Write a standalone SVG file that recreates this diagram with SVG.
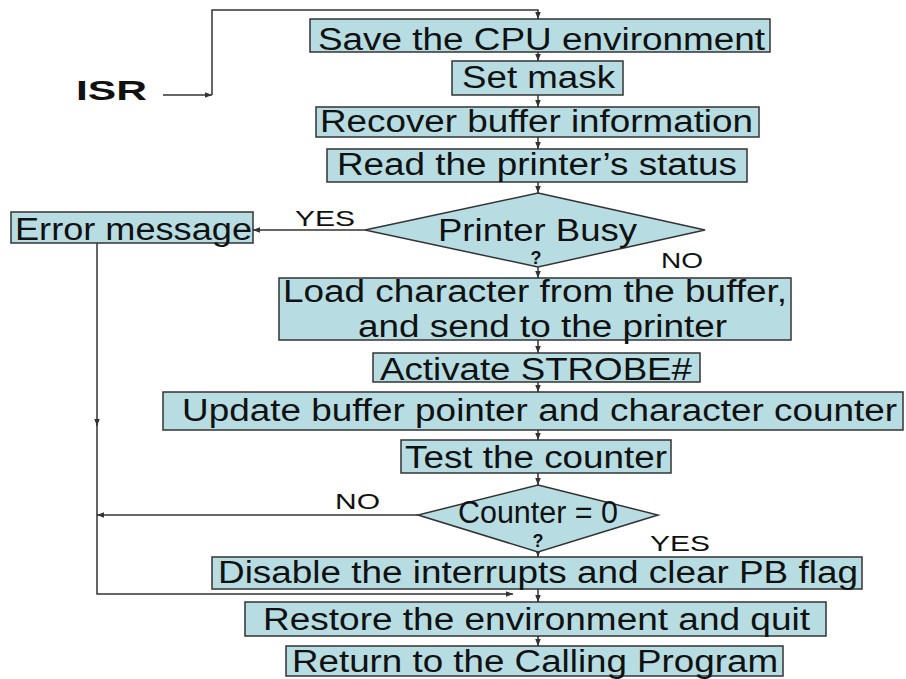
<svg xmlns="http://www.w3.org/2000/svg" width="906" height="679" viewBox="0 0 906 679">
<style>
.box{fill:#b7dde3;stroke:#333;stroke-width:1.5}
.t{font-family:"Liberation Sans",Arial,sans-serif;fill:#111;font-size:31px}
.lbl{font-family:"Liberation Sans",Arial,sans-serif;fill:#111;font-size:22px}
.q{font-family:"Liberation Sans",Arial,sans-serif;fill:#111;font-size:18px;font-weight:bold;text-anchor:middle}
.ln{fill:none;stroke:#333;stroke-width:1.5}
.ar{fill:none;stroke:#333;stroke-width:1.5;marker-end:url(#ah)}
</style>
<defs>
<marker id="ah" viewBox="0 0 10 10" refX="10" refY="5" markerWidth="7" markerHeight="7" orient="auto" markerUnits="userSpaceOnUse"><path d="M0,1 L10,5 L0,9 z" fill="#333"/></marker>
</defs>
<rect width="906" height="679" fill="#fff"/>
<g id="connectors">
<path class="ar" d="M163,95 L212,95"/>
<path class="ar" d="M212,95 L212,10 L538,10 L538,19"/>
<path class="ar" d="M538,52 L538,61"/>
<path class="ar" d="M538,95 L538,107"/>
<path class="ar" d="M538,137 L538,149"/>
<path class="ar" d="M538,182 L538,193"/>
<path class="ar" d="M538,267 L538,278"/>
<path class="ar" d="M538,340 L538,353"/>
<path class="ar" d="M538,382 L538,392"/>
<path class="ar" d="M538,430 L538,440"/>
<path class="ar" d="M538,473 L538,485"/>
<path class="ar" d="M538,552 L538,557"/>
<path class="ar" d="M538,589 L538,602"/>
<path class="ar" d="M538,636 L538,646"/>
<path class="ar" d="M365,230 L253,230"/>
<path class="ar" d="M97,243 L97,426"/>
<path class="ar" d="M97,424 L97,594 L513,594"/>
<path class="ar" d="M418,515 L97,515"/>
<text class="lbl" x="295" y="226" textLength="60" lengthAdjust="spacingAndGlyphs">YES</text>
<text class="lbl" x="661" y="268" textLength="42" lengthAdjust="spacingAndGlyphs">NO</text>
<text class="lbl" x="335" y="509" textLength="45" lengthAdjust="spacingAndGlyphs">NO</text>
<text class="lbl" x="650" y="551" textLength="60" lengthAdjust="spacingAndGlyphs">YES</text>
</g>
<g id="isr">
<text x="76" y="100" font-family="Liberation Sans,Arial,sans-serif" font-weight="bold" font-size="28" fill="#111" textLength="71" lengthAdjust="spacingAndGlyphs">ISR</text>
</g>
<g id="save">
<rect class="box" x="310" y="19" width="460" height="33"/>
<text class="t" x="318" y="50" font-size="33" textLength="447" lengthAdjust="spacingAndGlyphs">Save the CPU environment</text>
</g>
<g id="setmask">
<rect class="box" x="452" y="61" width="171" height="34"/>
<text class="t" x="462" y="88" font-size="30" textLength="153" lengthAdjust="spacingAndGlyphs">Set mask</text>
</g>
<g id="recover">
<rect class="box" x="316" y="107" width="443" height="30"/>
<text class="t" x="320" y="132" textLength="433" lengthAdjust="spacingAndGlyphs">Recover buffer information</text>
</g>
<g id="read">
<rect class="box" x="327" y="149" width="420" height="33"/>
<text class="t" x="337" y="175" textLength="400" lengthAdjust="spacingAndGlyphs">Read the printer’s status</text>
</g>
<g id="busy">
<polygon class="box" points="538,193 705,230 538,267 365,230"/>
<text class="t" x="438" y="241" font-size="28" textLength="199" lengthAdjust="spacingAndGlyphs">Printer Busy</text>
<text class="q" x="536" y="264">?</text>
</g>
<g id="error">
<rect class="box" x="11" y="212" width="242" height="31"/>
<text class="t" x="15" y="240" textLength="237" lengthAdjust="spacingAndGlyphs">Error message</text>
</g>
<g id="load">
<rect class="box" x="279" y="278" width="512" height="62"/>
<text class="t" x="283" y="302" font-size="30" textLength="504" lengthAdjust="spacingAndGlyphs">Load character from the buffer,</text>
<text class="t" x="358" y="337" font-size="30" textLength="369" lengthAdjust="spacingAndGlyphs">and send to the printer</text>
</g>
<g id="strobe">
<rect class="box" x="373" y="353" width="327" height="29"/>
<text class="t" x="380" y="380" textLength="312" lengthAdjust="spacingAndGlyphs">Activate STROBE#</text>
</g>
<g id="update">
<rect class="box" x="163" y="392" width="740" height="38"/>
<text class="t" x="182" y="421" textLength="715" lengthAdjust="spacingAndGlyphs">Update buffer pointer and character counter</text>
</g>
<g id="test">
<rect class="box" x="401" y="440" width="270" height="33"/>
<text class="t" x="405" y="468" textLength="262" lengthAdjust="spacingAndGlyphs">Test the counter</text>
</g>
<g id="counter">
<polygon class="box" points="538,485 658,515 538,552 418,515"/>
<text class="t" x="458" y="523" font-size="26" textLength="160" lengthAdjust="spacingAndGlyphs">Counter = 0</text>
<text class="q" x="538" y="547">?</text>
</g>
<g id="disable">
<rect class="box" x="212" y="557" width="650" height="32"/>
<text class="t" x="218" y="583" textLength="640" lengthAdjust="spacingAndGlyphs">Disable the interrupts and clear PB flag</text>
</g>
<g id="restore">
<rect class="box" x="245" y="602" width="581" height="34"/>
<text class="t" x="263" y="630" textLength="547" lengthAdjust="spacingAndGlyphs">Restore the environment and quit</text>
</g>
<g id="return">
<rect class="box" x="286" y="646" width="497" height="30"/>
<text class="t" x="292" y="672" textLength="486" lengthAdjust="spacingAndGlyphs">Return to the Calling Program</text>
</g>
</svg>
